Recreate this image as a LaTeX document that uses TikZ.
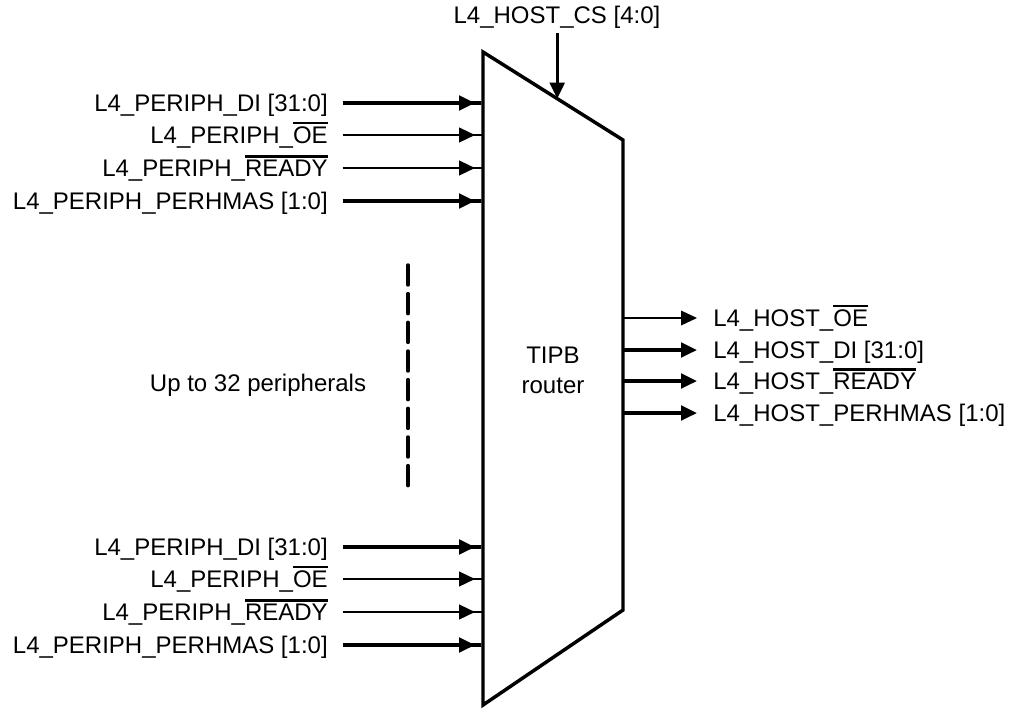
\documentclass[tikz,border=0pt]{standalone}
\usepackage{fontspec}
\setmainfont{Liberation Sans}
\usetikzlibrary{arrows.meta,positioning,calc}

% bar over active-low signal names
\newcommand{\barred}[1]{\vbox{\hrule height 1.9pt\kern 1.8pt\hbox{#1}}}

\tikzset{
  sig/.style={font=\fontsize{18}{22.5}\selectfont, inner sep=0pt, text height=12.9pt, text depth=0pt},
  inbus/.style={line width=2.5pt, -{Triangle[length=12pt,width=11pt]Rectangle[length=6pt,width=0pt 1]}},
  inwire/.style={line width=1.8pt, -{Triangle[length=12pt,width=11pt]Rectangle[length=6pt,width=0pt 1]}},
  outbus/.style={line width=2.5pt, -{Triangle[length=12pt,width=11pt]}},
  outwire/.style={line width=1pt, -{Triangle[length=12pt,width=11pt]}},
}

\begin{document}
\begin{tikzpicture}[x=0.75pt, y=-0.75pt]
    \useasboundingbox (0,0) rectangle (1010,708);

    % router body
    \draw[line width=2.6pt, line join=miter]
        (483,52) coordinate (tl) -- (623,140) coordinate (tr)
        -- (623,610) coordinate (br) -- (483,705) coordinate (bl) -- cycle;
    \node[font=\fontsize{18}{22.5}\selectfont, inner sep=0pt, align=center] (router) at (553,370) {TIPB\\router};

    % chip select from the top
    \node[sig] (cs) at (557,15) {L4\_HOST\_CS [4:0]};
    \coordinate (csin) at ($(tl)!0.53!(tr)$);
    \draw[outbus] ([yshift=-7pt]cs.south -| csin) -- (csin);

    % peripheral side, first and last group
    \foreach \grp/\dy in {a/0,b/444} {
        \foreach \i/\y/\txt/\w in {1/103/{L4\_PERIPH\_DI [31:0]}/inbus,
                                   2/135/{L4\_PERIPH\_\barred{OE}}/inwire,
                                   3/168/{L4\_PERIPH\_\barred{READY}}/inwire,
                                   4/201/{L4\_PERIPH\_PERHMAS [1:0]}/inbus} {
            \node[sig, anchor=east] (p\grp\i) at (328,\y+\dy) {\txt};
            \coordinate (in\grp\i) at (483,\y+\dy);
            \draw[\w] ([xshift=11pt]p\grp\i.east) -- (in\grp\i);
        }
    }

    % the ones in between
    \draw[line width=2.6pt, line cap=round, dash pattern=on 15pt off 6.5pt] (408,265) -- (408,485.7);
    \node[sig] (more) at (258,383) {Up to 32 peripherals};

    % host side
    \foreach \i/\y/\txt/\w in {1/318/{L4\_HOST\_\barred{OE}}/outwire,
                               2/350/{L4\_HOST\_DI [31:0]}/outbus,
                               3/381/{L4\_HOST\_\barred{READY}}/outbus,
                               4/413/{L4\_HOST\_PERHMAS [1:0]}/outbus} {
        \node[sig, anchor=west] (h\i) at (713,\y) {\txt};
        \coordinate (out\i) at (623,\y);
        \draw[\w] (out\i) -- ([xshift=-12pt]h\i.west);
    }
\end{tikzpicture}
\end{document}
